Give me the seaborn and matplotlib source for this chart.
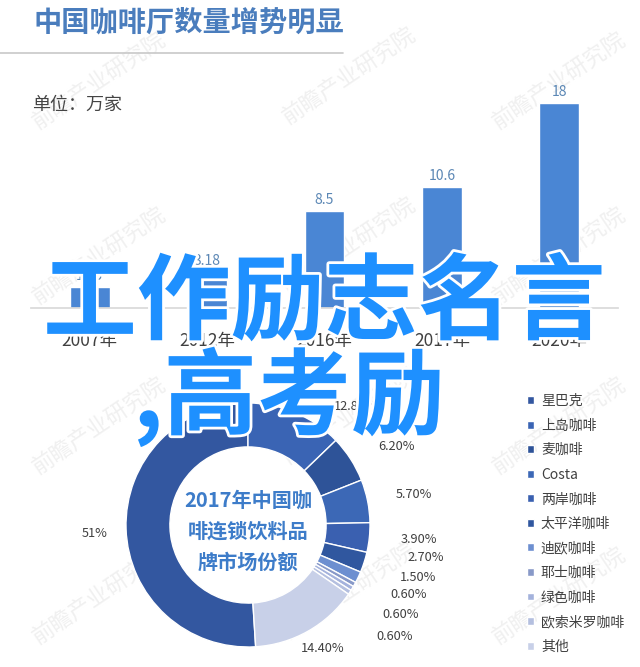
import numpy as np
import pandas as pd
import matplotlib
matplotlib.use("Agg")
import matplotlib.pyplot as plt
import matplotlib.patheffects as pe
from matplotlib.lines import Line2D
import seaborn as sns

# 柱状图: 中国咖啡厅数量 (万家)
years = ["2007年", "2012年", "2016年", "2017年", "2020年"]
shops = [1.85, 3.18, 8.5, 10.6, 18]
shop_labels = ["1.85", "3.18", "8.5", "10.6", "18"]

# 环形图: 2017年品牌市场份额
brands = ["星巴克", "上岛咖啡", "麦咖啡", "Costa", "两岸咖啡", "太平洋咖啡",
          "迪欧咖啡", "耶士咖啡", "绿色咖啡", "欧索米罗咖啡", "其他"]
share = [51, 12.8, 6.2, 5.7, 3.9, 2.7, 1.5, 0.6, 0.6, 0.6, 14.4]
share_labels = ["51%", "12.80%", "6.20%", "5.70%", "3.90%", "2.70%", "1.50%",
                "0.60%", "0.60%", "0.60%", "14.40%"]

brand_colors = ["#3357a0", "#3a64b4", "#2e5398", "#3c68b6", "#3a60b0", "#30579f",
                "#6d8fd0", "#8899c8", "#a4b2dc", "#b4bfdf", "#c8d0e8"]
# 标签位置 (以半径为单位, 相对圆心)
label_xy = [(-1.26, -0.07), (0.88, 0.97), (1.22, 0.64), (1.36, 0.25), (1.40, -0.12),
            (1.46, -0.27), (1.39, -0.43), (1.32, -0.57), (1.25, -0.73), (1.20, -0.91),
            (0.61, -1.01)]

sns.set_theme(style="white")
plt.rcParams['font.family'] = ['Noto Sans CJK SC', 'DejaVu Sans']

W, H = 640, 667
fig = plt.figure(figsize=(W / 100, H / 100), dpi=100)
fig.patch.set_facecolor("white")


def box(x0, y0, x1, y1):
    # 像素(左上为原点) -> figure 坐标
    return [x0 / W, 1 - y1 / H, (x1 - x0) / W, (y1 - y0) / H]


# 水印
for lx, ly in [(35, 125), (285, 120), (495, 125), (35, 300), (285, 290), (495, 300),
               (35, 470), (285, 460), (495, 470), (35, 640), (285, 635), (495, 640)]:
    fig.text(lx / W, 1 - ly / H, "前瞻产业研究院", rotation=34, rotation_mode="anchor",
             ha="left", va="center", fontsize=16, color="#f0f0f0", zorder=0.5)

# 标题
fig.text(33 / W, 1 - 23 / H, "中国咖啡厅数量增势明显", fontsize=20.3, fontweight="bold",
         color="#4a7dbd", va="center", ha="left")
fig.add_artist(Line2D([0, 343 / W], [1 - 53 / H, 1 - 53 / H], color="#c8c8c8", lw=1.2))
fig.text(32 / W, 1 - 105 / H, "单位：万家", fontsize=13, color="#444444", va="center")

# 柱状图
ax1 = fig.add_axes(box(31, 79.9, 618, 308))
ax1.set_zorder(1)
ax1.patch.set_alpha(0)
df = pd.DataFrame({"年份": years, "数量": shops})
sns.barplot(data=df, x="年份", y="数量", color="#4a86d4", saturation=1, width=0.34, ax=ax1)
ax1.set_ylim(0, 20)
ax1.set_xlim(-0.5, 4.5)
ax1.bar_label(ax1.containers[0], labels=shop_labels, padding=3, color="#5b87b5", fontsize=10)
sns.despine(ax=ax1, left=True)
ax1.spines["bottom"].set_color("#d9d9d9")
ax1.set_yticks([])
ax1.set_xlabel("")
ax1.set_ylabel("")
ax1.tick_params(axis="x", length=0, pad=17, labelsize=12.5, labelcolor="#404040")

# 环形图
ax2 = fig.add_axes(box(248 - 122, 525 - 122, 248 + 122, 525 + 122))
ax2.set_zorder(1)
ax2.patch.set_alpha(0)
start = 90 + share[0] / sum(share) * 360
wedges, _ = ax2.pie(share, colors=brand_colors, startangle=start, counterclock=False,
                    radius=1, wedgeprops=dict(width=0.36, edgecolor="white", linewidth=1))
ax2.set_aspect("equal")
ax2.set_xlim(-1, 1)
ax2.set_ylim(-1, 1)
for (lx, ly), lbl in zip(label_xy, share_labels):
    ax2.text(lx, ly, lbl, ha="center", va="center", fontsize=9.2, color="#404040")
ax2.text(0, -0.05, "2017年中国咖\n啡连锁饮料品\n牌市场份额", ha="center", va="center",
         fontsize=14.5, fontweight="bold", color="#3d7cc9", linespacing=1.6)

fig.legend(wedges, brands, loc="upper left", bbox_to_anchor=(527 / W, 1 - 394 / H),
           frameon=False, borderaxespad=0, borderpad=0, handlelength=0.5,
           handleheight=0.5, handletextpad=0.5, labelspacing=0.76, fontsize=10,
           labelcolor="#404040")

# 覆盖文字
stroke = [pe.withStroke(linewidth=4, foreground="white")]
fig.text(43 / W, 1 - 332 / H, "工作励志名言", fontsize=67.5, fontweight="bold",
         color="#1e90ff", va="baseline", ha="left", path_effects=stroke, zorder=10)
fig.text(133 / W, 1 - 427 / H, ",高考励", fontsize=67.5, fontweight="bold",
         color="#1e90ff", va="baseline", ha="left", path_effects=stroke, zorder=10)

fig.savefig("out.png", dpi=100)
